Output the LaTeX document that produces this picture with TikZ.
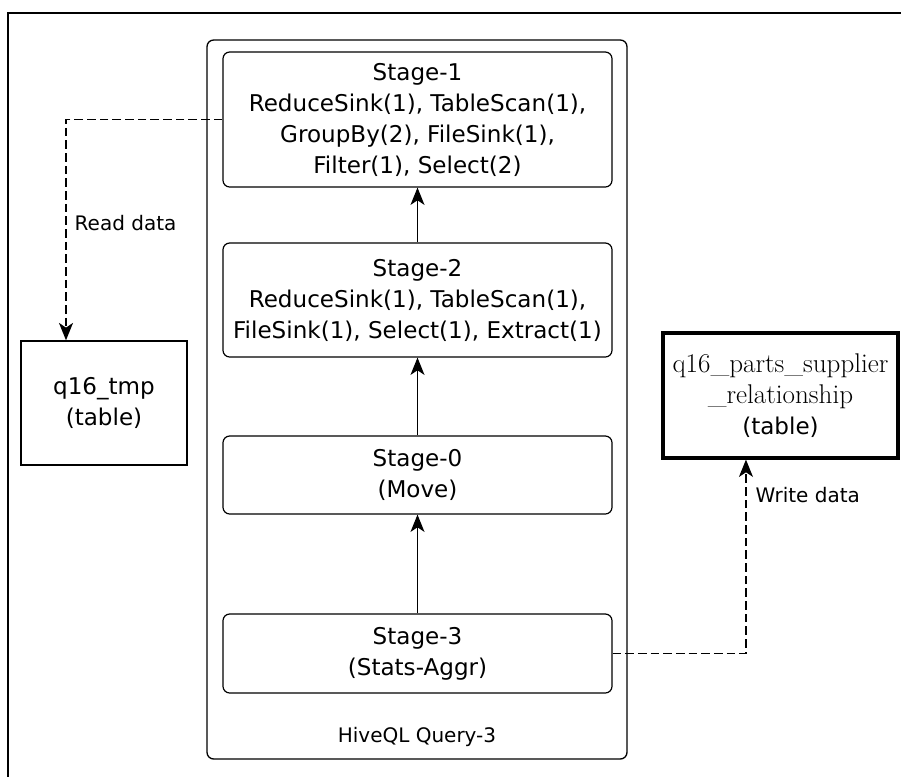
\documentclass[tikz,border=0pt]{standalone}
\usepackage{fontspec}
\setsansfont{DejaVu Sans}
\usetikzlibrary{arrows.meta}

\begin{document}
\begin{tikzpicture}[x=0.75pt, y=-0.75pt, >={Stealth[length=13pt,width=10.5pt,inset=3.5pt]}, stage/.style={draw, rounded corners=5pt, line width=0.9pt, minimum width=291.75pt, align=center, inner sep=1pt, font=\sffamily\fontsize{17.3}{23.25}\selectfont}, query/.style={draw, rounded corners=5pt, line width=1pt, minimum width=315pt, minimum height=539.25pt}, tablebox/.style={draw, align=center, inner sep=1pt, font=\sffamily\fontsize{17.3}{23.25}\selectfont}, note/.style={font=\sffamily\fontsize{15}{18}\selectfont}, flow/.style={dashed, dash pattern=on 6.5pt off 3pt, line width=0.9pt}]

\useasboundingbox (0,0) rectangle (901,776);
\clip (0,0) rectangle (901,776);
\draw[line width=2pt] (8,800) -- (8,13) -- (920,13);

\node[query] (query) at (417,399.5) {};
\node[stage, minimum height=101.25pt] (s1) at (417.5,119.5) {Stage-1\\ReduceSink(1), TableScan(1),\\GroupBy(2), FileSink(1),\\Filter(1), Select(2)};
\node[stage, minimum height=85.5pt] (s2) at (417.5,300) {Stage-2\\ReduceSink(1), TableScan(1),\\FileSink(1), Select(1), Extract(1)};
\node[stage, minimum height=58.5pt] (s0) at (417.5,475) {Stage-0\\(Move)};
\node[stage, minimum height=59.25pt] (s3) at (417.5,653.5) {Stage-3\\(Stats-Aggr)};
\node[note] (querylbl) at (417,737) {HiveQL Query-3};

\node[tablebox, minimum width=124.5pt, minimum height=93pt, line width=1.1pt] (tmp) at (104,403) {q16\_tmp\\(table)};
\node[tablebox, minimum width=176.25pt, minimum height=93.75pt, line width=2.4pt] (rel) at (780.5,395.5) {{\rmfamily\fontsize{20.3}{23.25}\selectfont q16\_parts\_supplier}\\{\rmfamily\fontsize{20.3}{23.25}\selectfont \_relationship}\\(table)};

\draw [->, line width=0.9pt] (s2) -- (s1);
\draw [->, line width=0.9pt] (s0) -- (s2);
\draw [->, line width=0.9pt] (s3) -- (s0);
\draw [->, flow] (s1.west) -| ([xshift=-28.5pt]tmp.north);
\draw [->, flow] (s3.east) -| ([xshift=-25.9pt]rel.south);

\node[note, anchor=west] (readlbl) at (70,223) {Read data};
\node[note, anchor=west] (writelbl) at (751,495) {Write data};

\end{tikzpicture}
\end{document}
